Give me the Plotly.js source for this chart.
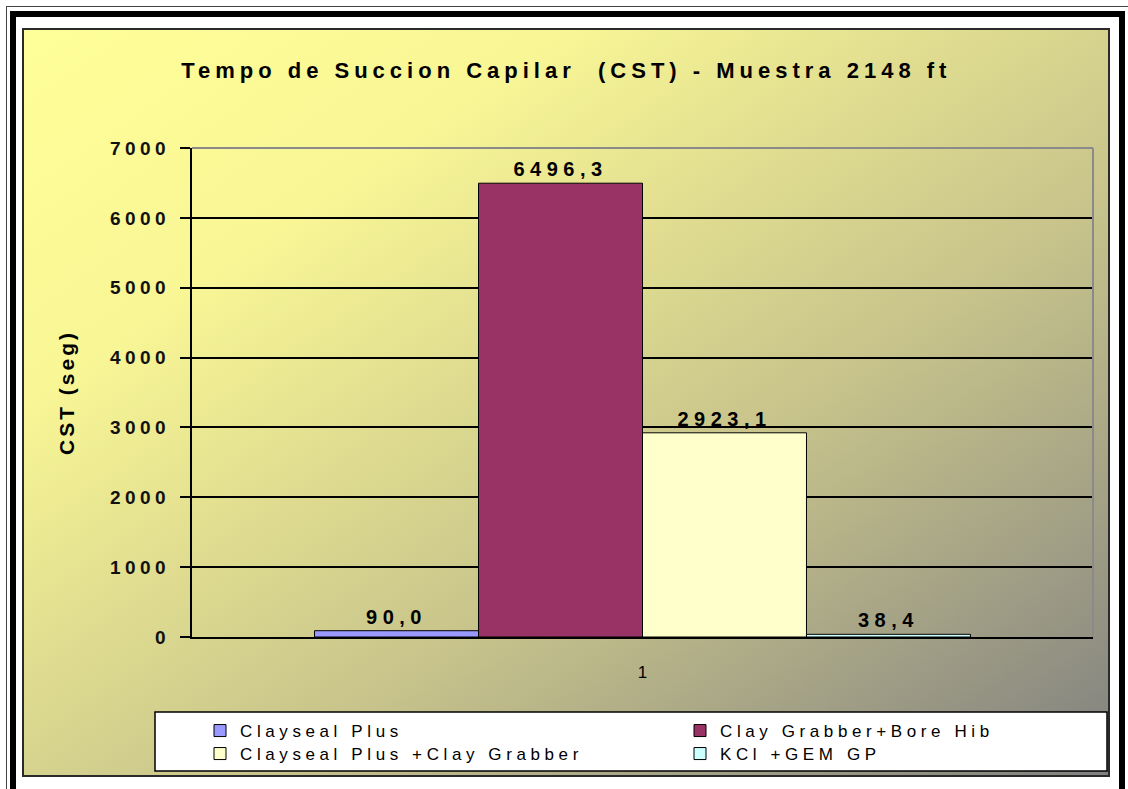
<!DOCTYPE html>
<html>
<head>
<meta charset="utf-8">
<script src="https://cdn.plot.ly/plotly-3.0.1.min.js"></script>
<style>
  html, body { margin:0; padding:0; background:#ffffff; width:1128px; height:789px; overflow:hidden; }
  #thin { position:absolute; left:6px; top:6px; width:1130px; height:800px; border:1px solid #444; box-sizing:border-box; }
  #frame { position:absolute; left:10px; top:11px; width:1115px; height:790px; border:6px solid #000; box-sizing:border-box; background:#fff; }
  #area { position:absolute; left:22px; top:28px; width:1088px; height:749px; box-sizing:border-box;
          border:2px solid #2a2a2a;
          background: linear-gradient(to bottom right, #FFFF99 0%, #F8F695 25%, #C6C28B 62%, #808080 100%); }
  #chart { position:absolute; left:0; top:0; width:1128px; height:789px; }
  .gtitle { letter-spacing:5px; }
  .ytitle { letter-spacing:3px; }
  .yaxislayer-above text { letter-spacing:4.5px; }
  .bartext text, text.bartext { letter-spacing:5.5px; }
  .legendtext, g[class^="legend"] text { letter-spacing:4.6px !important; }
  g[class^="legend"], g[class^="legend"] g, g[class^="legend"] [clip-path] { clip-path: none !important; }
</style>
</head>
<body>
<div id="thin"></div>
<div id="frame"></div>
<div id="area"></div>
<div id="chart"></div>
<script>
// ---- data ----
var categories = ['1'];
var seriesNames = ['Clayseal Plus', 'Clay Grabber+Bore Hib', 'Clayseal Plus +Clay Grabber', 'KCl +GEM GP'];
var claysealPlus = [90.0];
var clayGrabberBoreHib = [6496.3];
var claysealPlusClayGrabber = [2923.1];
var kclGemGp = [38.4];
var yTickValues = [0, 1000, 2000, 3000, 4000, 5000, 6000, 7000];
var chartTitle = 'Tempo de Succion Capilar  (CST) - Muestra 2148 ft';
var yTitle = 'CST (seg)';

var seriesValues = [claysealPlus, clayGrabberBoreHib, claysealPlusClayGrabber, kclGemGp];
var colors = ['#9999FF', '#993366', '#FFFFCC', '#CCFFFF'];
var legendIds = ['legend', 'legend2', 'legend3', 'legend4'];

var F = 'Liberation Sans, Arial, Helvetica, sans-serif';

var traces = seriesNames.map(function (name, i) {
  return {
    type: 'bar',
    name: name,
    x: categories,
    y: seriesValues[i],
    legend: legendIds[i],
    marker: { color: colors[i], line: { color: '#000', width: 1 } },
    texttemplate: '%{y:.1f}',
    textposition: 'outside',
    cliponaxis: false,
    constraintext: 'none',
    textfont: { family: F, size: 20, color: '#000', weight: 'bold' },
    hoverinfo: 'skip'
  };
});

// plot area in pixels: x 192..1093, y 148..637
var L = 192, R = 1093, T = 148, B = 637;
var W = R - L, H = B - T;
function px(x) { return (x - L) / W; }
function py(y) { return (B - y) / H; }

function legendAt(xPix, yPix) {
  return {
    orientation: 'h',
    x: px(xPix), xanchor: 'left',
    y: py(yPix), yanchor: 'top',
    bgcolor: 'rgba(0,0,0,0)',
    borderwidth: 0,
    font: { family: F, size: 17, color: '#000' }
  };
}

var layout = {
  width: 1128, height: 789,
  paper_bgcolor: 'rgba(0,0,0,0)',
  plot_bgcolor: 'rgba(0,0,0,0)',
  margin: { l: L, r: 1128 - R, t: T, b: 789 - B, pad: 0 },
  separators: ',.',
  barmode: 'group',
  bargap: 0.272,
  bargroupgap: 0,
  font: { family: F, color: '#000' },
  showlegend: true,
  title: {
    text: chartTitle,
    xref: 'container', x: 0.502,
    yref: 'container', y: 1 - 70 / 789, yanchor: 'middle',
    font: { family: F, size: 22, color: '#000', weight: 'bold' }
  },
  xaxis: {
    type: 'category',
    showline: true, linecolor: '#000', linewidth: 2,
    showgrid: false, zeroline: false, ticks: '',
    ticklabelstandoff: 19,
    tickfont: { family: F, size: 17, color: '#000' },
    fixedrange: true
  },
  yaxis: {
    range: [0, 7000],
    tickvals: yTickValues,
    ticktext: yTickValues.map(String),
    showgrid: true, gridcolor: '#000', gridwidth: 2,
    zeroline: false,
    showline: true, linecolor: '#000', linewidth: 2,
    ticks: 'outside', ticklen: 10, tickwidth: 2, tickcolor: '#000',
    ticklabelstandoff: 6,
    tickfont: { family: F, size: 19, color: '#111', weight: 'bold' },
    title: { text: yTitle, standoff: 48, font: { family: F, size: 21, color: '#000', weight: 'bold' } },
    fixedrange: true
  },
  legend: legendAt(200, 713),
  legend2: legendAt(680, 713),
  legend3: legendAt(200, 736),
  legend4: legendAt(680, 736),
  shapes: [
    // legend box
    { type: 'rect', xref: 'paper', yref: 'paper', x0: px(155), x1: px(1107), y0: py(771), y1: py(712),
      fillcolor: '#ffffff', line: { color: '#000', width: 1.5 }, layer: 'above' },
    // plot area top and right border (gray)
    { type: 'line', xref: 'paper', yref: 'paper', x0: 0, x1: 1, y0: 1, y1: 1, line: { color: '#8a8a8a', width: 2 }, layer: 'above' },
    { type: 'line', xref: 'paper', yref: 'paper', x0: 1, x1: 1, y0: 0, y1: 1, line: { color: '#8a8a8a', width: 2 }, layer: 'above' }
  ]
};

Plotly.newPlot('chart', traces, layout, { displayModeBar: false, staticPlot: true });
</script>
</body>
</html>
